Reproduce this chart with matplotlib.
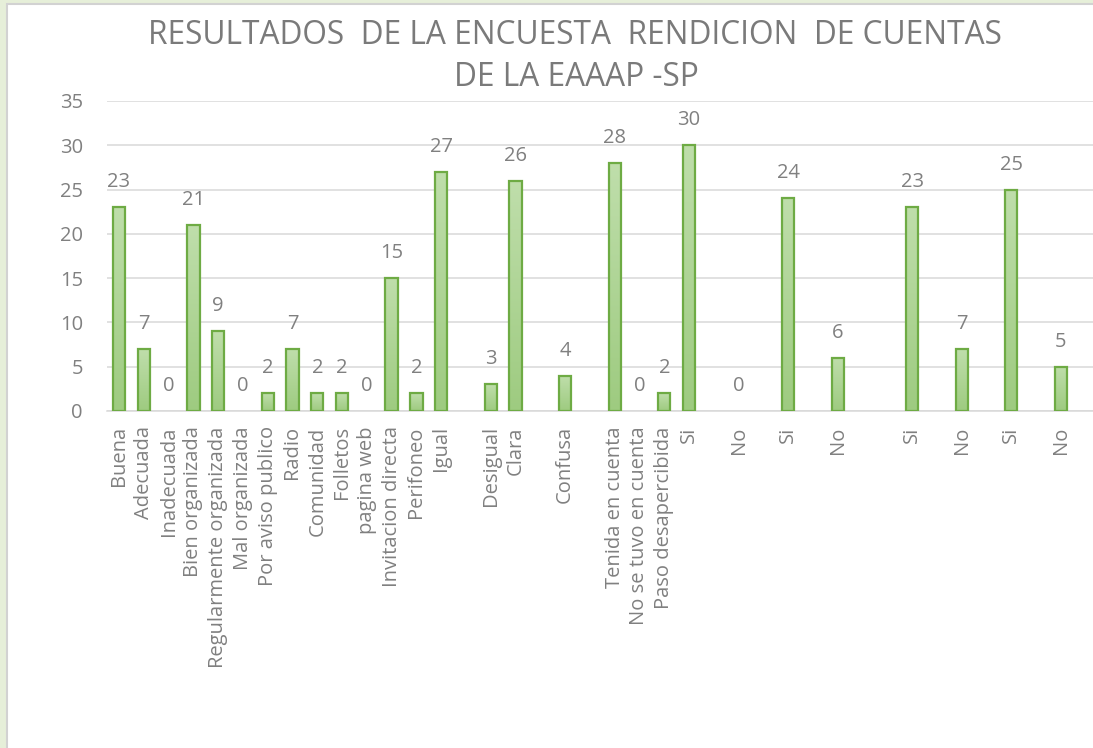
import numpy as np
import matplotlib
matplotlib.use('Agg')
import matplotlib.pyplot as plt
from matplotlib.colors import LinearSegmentedColormap
from matplotlib.patches import Rectangle

# categorias del eje x ('' = hueco entre preguntas)
categorias = ['Buena', 'Adecuada', 'Inadecuada', 'Bien organizada',
              'Regularmente organizada', 'Mal organizada', 'Por aviso publico',
              'Radio', 'Comunidad', 'Folletos', 'pagina web',
              'Invitacion directa', 'Perifoneo', 'Igual', '', 'Desigual',
              'Clara', '', 'Confusa', '', 'Tenida en cuenta',
              'No se tuvo en cuenta', 'Paso desapercibida', 'Si', '', 'No', '',
              'Si', '', 'No', '', '', 'Si', '', 'No', '', 'Si', '', 'No']
valores = [23, 7, 0, 21, 9, 0, 2, 7, 2, 2, 0, 15, 2, 27, None, 3, 26, None, 4,
           None, 28, 0, 2, 30, None, 0, None, 24, None, 6, None, None, 23, None,
           7, None, 25, None, 5]
titulo = ['RESULTADOS  DE LA ENCUESTA  RENDICION  DE CUENTAS', 'DE LA EAAAP -SP']

plt.rcParams['font.family'] = ['Open Sans', 'DejaVu Sans']
gris = '#808080'

W, H = 1093, 748
fig = plt.figure(figsize=(W / 100, H / 100), dpi=100)
fig.patch.set_facecolor('#e6efd9')
fig.patches.append(Rectangle((7 / W, -0.01), 1.0, 1 - 4 / H + 0.01, transform=fig.transFigure,
                             facecolor='white', edgecolor='#d2d2d2', lw=1.5, zorder=-10))

paso = 24.76
izq, base, arriba = 106.6, 411, 101
ax = fig.add_axes([izq / W, 1 - base / H, (W - izq) / W + 0.01, (base - arriba) / H])
ax.set_facecolor('none')

xs = [i for i, v in enumerate(valores) if v is not None]
vs = [v for v in valores if v is not None]

bars = ax.bar(xs, vs, width=0.5, facecolor='none', edgecolor='#6eab44', lw=1.6, zorder=3)
cmap = LinearSegmentedColormap.from_list('verde', ['#9ecb80', '#bfdeab'])
grad = np.linspace(0, 1, 128).reshape(-1, 1)
for b, v in zip(bars, vs):
    if v == 0:
        b.set_visible(False)
        continue
    im = ax.imshow(grad, extent=[b.get_x(), b.get_x() + b.get_width(), 0, v],
                   origin='lower', aspect='auto', cmap=cmap, zorder=2.5)
    im.set_clip_path(b)

for x, v in zip(xs, vs):
    ax.annotate(str(v), (x, v), xytext=(0, 18), textcoords='offset points',
                ha='center', va='center', fontsize=14.5, color=gris)

ax.set_xlim(-0.5, -0.5 + (W - izq) / paso + 0.4)
ax.set_ylim(0, 35)
ax.set_yticks(range(0, 36, 5))
ax.set_xticks(range(len(categorias)))
ax.set_xticklabels(categorias, rotation=90, va='top', ha='center')
ax.tick_params(axis='both', length=0, labelsize=14.5, labelcolor=gris)
ax.tick_params(axis='x', pad=11)
ax.tick_params(axis='y', pad=17)
ax.grid(axis='y', color='#d9d9d9', lw=1.1, zorder=1)
for s in ['top', 'right', 'left']:
    ax.spines[s].set_visible(False)
ax.spines['bottom'].set_color('#d9d9d9')
ax.spines['bottom'].set_linewidth(1.1)

fig.text(0.526, 1 - 35 / H, titulo[0], ha='center', va='center', fontsize=22.8,
         color='#7a7a7a')
fig.text(0.527, 1 - 78 / H, titulo[1], ha='center', va='center', fontsize=22.8,
         color='#7a7a7a')

fig.savefig('out.png', dpi=100, facecolor=fig.get_facecolor())
